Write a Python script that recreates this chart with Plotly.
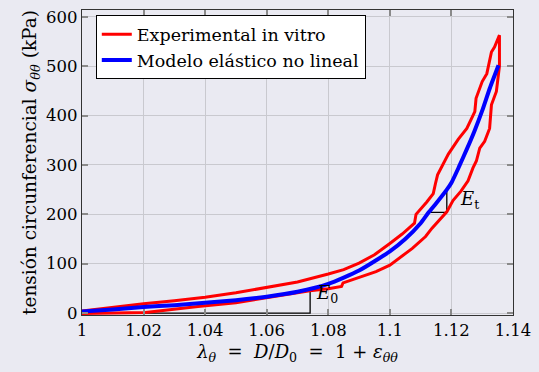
import plotly.graph_objects as go

# Experimental loop: upper branch (loading) then lower branch (unloading)
exp_x = [1.000, 1.010, 1.020, 1.030, 1.040, 1.050, 1.060, 1.070, 1.080, 1.085,
         1.090, 1.095, 1.100, 1.104, 1.108, 1.1085, 1.112, 1.1141, 1.1148, 1.1155,
         1.119, 1.1222, 1.125, 1.1276, 1.128, 1.130, 1.1315, 1.133, 1.134, 1.1356,
         1.1356, 1.1346, 1.1330, 1.1324, 1.1308, 1.1292, 1.1281, 1.1270, 1.1254, 1.1231,
         1.1205, 1.1185, 1.1137, 1.1116, 1.1073, 1.1000, 1.0955, 1.0900, 1.0848, 1.0843,
         1.0800, 1.0740, 1.0602, 1.0500, 1.0377, 1.0300, 1.0206, 1.000]
exp_y = [4, 12, 19, 25, 32, 41, 52, 63, 79, 88,
         101, 118, 141, 160, 182, 200, 225, 242, 262, 280,
         322, 352, 374, 408, 435, 469, 485, 529, 539, 563,
         500, 449, 422, 374, 348, 334, 308, 294, 268, 247,
         228, 205, 172, 155, 131, 97, 84, 72, 61, 54,
         49, 45, 31, 21, 13, 8, 1, -1]

# Nonlinear elastic model
mod_x = [1.000, 1.010, 1.020, 1.030, 1.040, 1.050, 1.060, 1.070, 1.080, 1.090,
         1.100, 1.105, 1.110, 1.1126, 1.115, 1.1185, 1.120, 1.1225, 1.125, 1.1275,
         1.130, 1.1325, 1.1353]
mod_y = [3, 7, 12, 16, 21, 26, 33, 43, 59, 86,
         125, 150, 182, 204, 222, 250, 264, 297, 332, 369,
         410, 456, 502]

# Slope triangles (annotation guides)
e0_x = [1.000, 1.0741, 1.0741]
e0_y = [0, 0, 50]
et_x = [1.1126, 1.1185, 1.1185]
et_y = [204, 204, 250]

x_ticks = [1.0, 1.02, 1.04, 1.06, 1.08, 1.10, 1.12, 1.14]
x_ticklabels = ["1", "1.02", "1.04", "1.06", "1.08", "1.1", "1.12", "1.14"]
y_ticks = [0, 100, 200, 300, 400, 500, 600]

FONT = "DejaVu Serif"
BG = "#eaeaf2"

fig = go.Figure()
fig.add_trace(go.Scatter(x=e0_x, y=e0_y, mode="lines", showlegend=False,
                         line=dict(color="black", width=1.3)))
fig.add_trace(go.Scatter(x=et_x, y=et_y, mode="lines", showlegend=False,
                         line=dict(color="black", width=1.3)))
fig.add_trace(go.Scatter(x=exp_x, y=exp_y, mode="lines", name="Experimental in vitro",
                         line=dict(color="#ff0000", width=3)))
fig.add_trace(go.Scatter(x=mod_x, y=mod_y, mode="lines", name="Modelo elástico no lineal",
                         line=dict(color="#0000ff", width=4, shape="spline", smoothing=0.6)))

fig.add_annotation(x=1.0752, y=38, text="<i>E</i><sub>0</sub>", showarrow=False,
                   xanchor="left", font=dict(family=FONT, size=18, color="black"))
fig.add_annotation(x=1.1222, y=230, text="<i>E</i><sub>t</sub>", showarrow=False,
                   xanchor="left", font=dict(family=FONT, size=18, color="black"))

axis_common = dict(showgrid=True, gridcolor="#c9c9cf", gridwidth=1,
                   showline=True, linecolor="#333333", linewidth=1.3, mirror="ticks",
                   ticks="inside", ticklen=6, tickcolor="#8a8a8a", tickwidth=1.5,
                   zeroline=False, tickfont=dict(family=FONT, size=16.5, color="black"))

fig.update_xaxes(range=[1.0, 1.14], tickvals=x_ticks, ticktext=x_ticklabels,
                 title=dict(text="<i>λ</i><sub><i>θ</i></sub>  =  <i>D</i>/<i>D</i><sub>0</sub>  =  1 + <i>ε</i><sub><i>θθ</i></sub>",
                            font=dict(family=FONT, size=18, color="black"), standoff=6),
                 **axis_common)
fig.update_yaxes(range=[-4, 614], tickvals=y_ticks,
                 title=dict(text="tensión circunferencial <i>σ</i><sub><i>θθ</i></sub> (kPa)",
                            font=dict(family=FONT, size=18.5, color="black"), standoff=4),
                 **axis_common)

fig.update_layout(
    width=539, height=372,
    margin=dict(l=82, r=20, t=8, b=57),
    paper_bgcolor=BG, plot_bgcolor=BG,
    font=dict(family=FONT, size=16.5, color="black"),
    legend=dict(x=0.032, y=0.982, xanchor="left", yanchor="top",
                bgcolor="white", bordercolor="black", borderwidth=1,
                itemwidth=30, font=dict(family=FONT, size=17.5, color="black"),
                tracegroupgap=0),
)

fig.write_html("out.html")
